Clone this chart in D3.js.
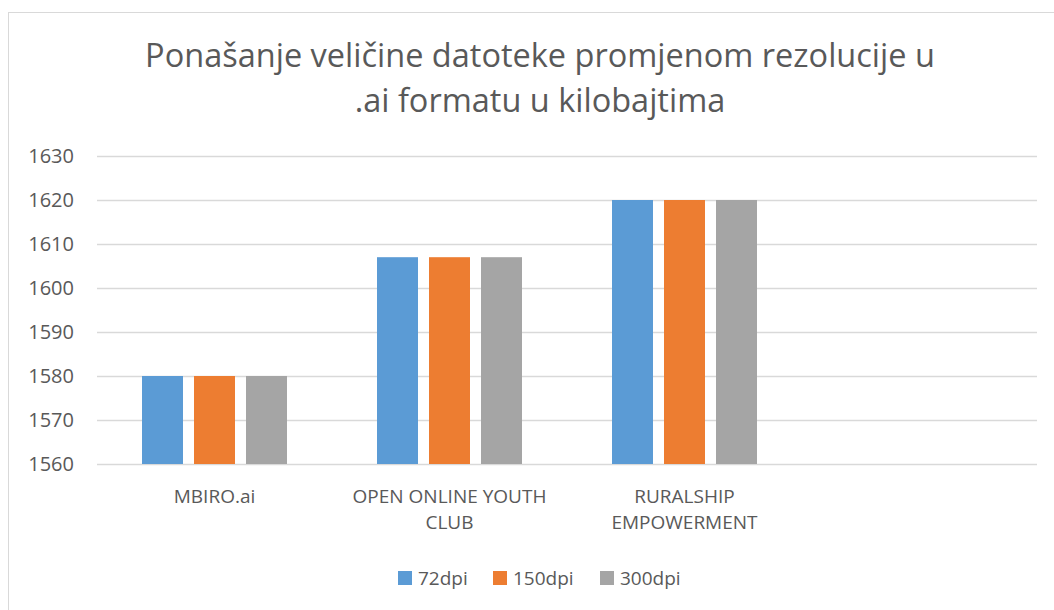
<!DOCTYPE html>
<html>
<head>
<meta charset="utf-8">
<script src="https://cdn.jsdelivr.net/npm/d3@7"></script>
<style>
  body { margin: 0; background: #fff; }
  text { font-family: "Open Sans", "Noto Sans", sans-serif; fill: #595959; }
</style>
</head>
<body>
<div id="chart"></div>
<script>
// chart data
const titleLines = ["Ponašanje veličine datoteke promjenom rezolucije u", ".ai formatu u kilobajtima"];
const categories = [["MBIRO.ai"], ["OPEN ONLINE YOUTH", "CLUB"], ["RURALSHIP", "EMPOWERMENT"], [""]];
const seriesNames = ["72dpi", "150dpi", "300dpi"];
const dpi72 = [1580, 1607, 1620];
const dpi150 = [1580, 1607, 1620];
const dpi300 = [1580, 1607, 1620];
const yTicks = [1560, 1570, 1580, 1590, 1600, 1610, 1620, 1630];
const colors = ["#5b9bd5", "#ed7d31", "#a5a5a5"];

const width = 1054, height = 610;
const margin = {top: 156, right: 17, bottom: 146, left: 97};

const svg = d3.select("#chart").append("svg")
    .attr("width", width)
    .attr("height", height);

// chart area border
svg.append("rect")
    .attr("x", 8.5).attr("y", 12.5)
    .attr("width", 1100).attr("height", 700)
    .attr("fill", "none")
    .attr("stroke", "#d9d9d9");

// title
const title = svg.append("text")
    .attr("text-anchor", "middle")
    .style("font-size", "32.5px");
title.selectAll("tspan")
  .data(titleLines)
  .enter().append("tspan")
    .attr("x", 540)
    .attr("y", (d, i) => 67 + i * 45)
    .text(d => d);

const x0 = d3.scaleBand()
    .domain(d3.range(categories.length))
    .range([margin.left, width - margin.right]);

const x1 = d3.scaleBand()
    .domain(seriesNames)
    .range([0, 145])
    .paddingInner(11 / 52);

const y = d3.scaleLinear()
    .domain([1560, 1630])
    .range([height - margin.bottom, margin.top]);

// gridlines
svg.append("g")
  .selectAll("line")
  .data(yTicks)
  .enter().append("line")
    .attr("x1", margin.left)
    .attr("x2", width - margin.right)
    .attr("y1", d => Math.round(y(d)) + 0.5)
    .attr("y2", d => Math.round(y(d)) + 0.5)
    .attr("stroke", "#d9d9d9")
    .attr("stroke-width", 1.3);

// y labels
svg.append("g")
  .selectAll("text")
  .data(yTicks)
  .enter().append("text")
    .attr("x", 74)
    .attr("y", d => y(d) + 7)
    .attr("text-anchor", "end")
    .style("font-size", "20px")
    .text(d => d);

// bars
const series = [dpi72, dpi150, dpi300];
const offset = (x0.bandwidth() - 145) / 2;
series.forEach((vals, s) => {
  svg.append("g")
    .selectAll("rect")
    .data(vals)
    .enter().append("rect")
      .attr("x", (d, i) => x0(i) + offset + x1(seriesNames[s]))
      .attr("y", d => y(d))
      .attr("width", x1.bandwidth())
      .attr("height", d => y(1560) - y(d))
      .attr("fill", colors[s]);
});

// category labels
const catLabels = svg.append("g")
  .selectAll("text")
  .data(categories)
  .enter().append("text")
    .attr("text-anchor", "middle")
    .style("font-size", "19px");
catLabels.selectAll("tspan")
  .data((d, i) => d.map(t => ({t: t, i: i})))
  .enter().append("tspan")
    .attr("x", d => x0(d.i) + x0.bandwidth() / 2)
    .attr("y", (d, j) => 503 + j * 26)
    .text(d => d.t);

// legend
const legendX = [398, 493, 600];
const legend = svg.append("g")
  .selectAll("g")
  .data(seriesNames)
  .enter().append("g")
    .attr("transform", (d, i) => "translate(" + legendX[i] + ",571)");
legend.append("rect")
    .attr("width", 14).attr("height", 14)
    .attr("fill", (d, i) => colors[i]);
legend.append("text")
    .attr("x", 20).attr("y", 14)
    .style("font-size", "19px")
    .text(d => d);
</script>
</body>
</html>
